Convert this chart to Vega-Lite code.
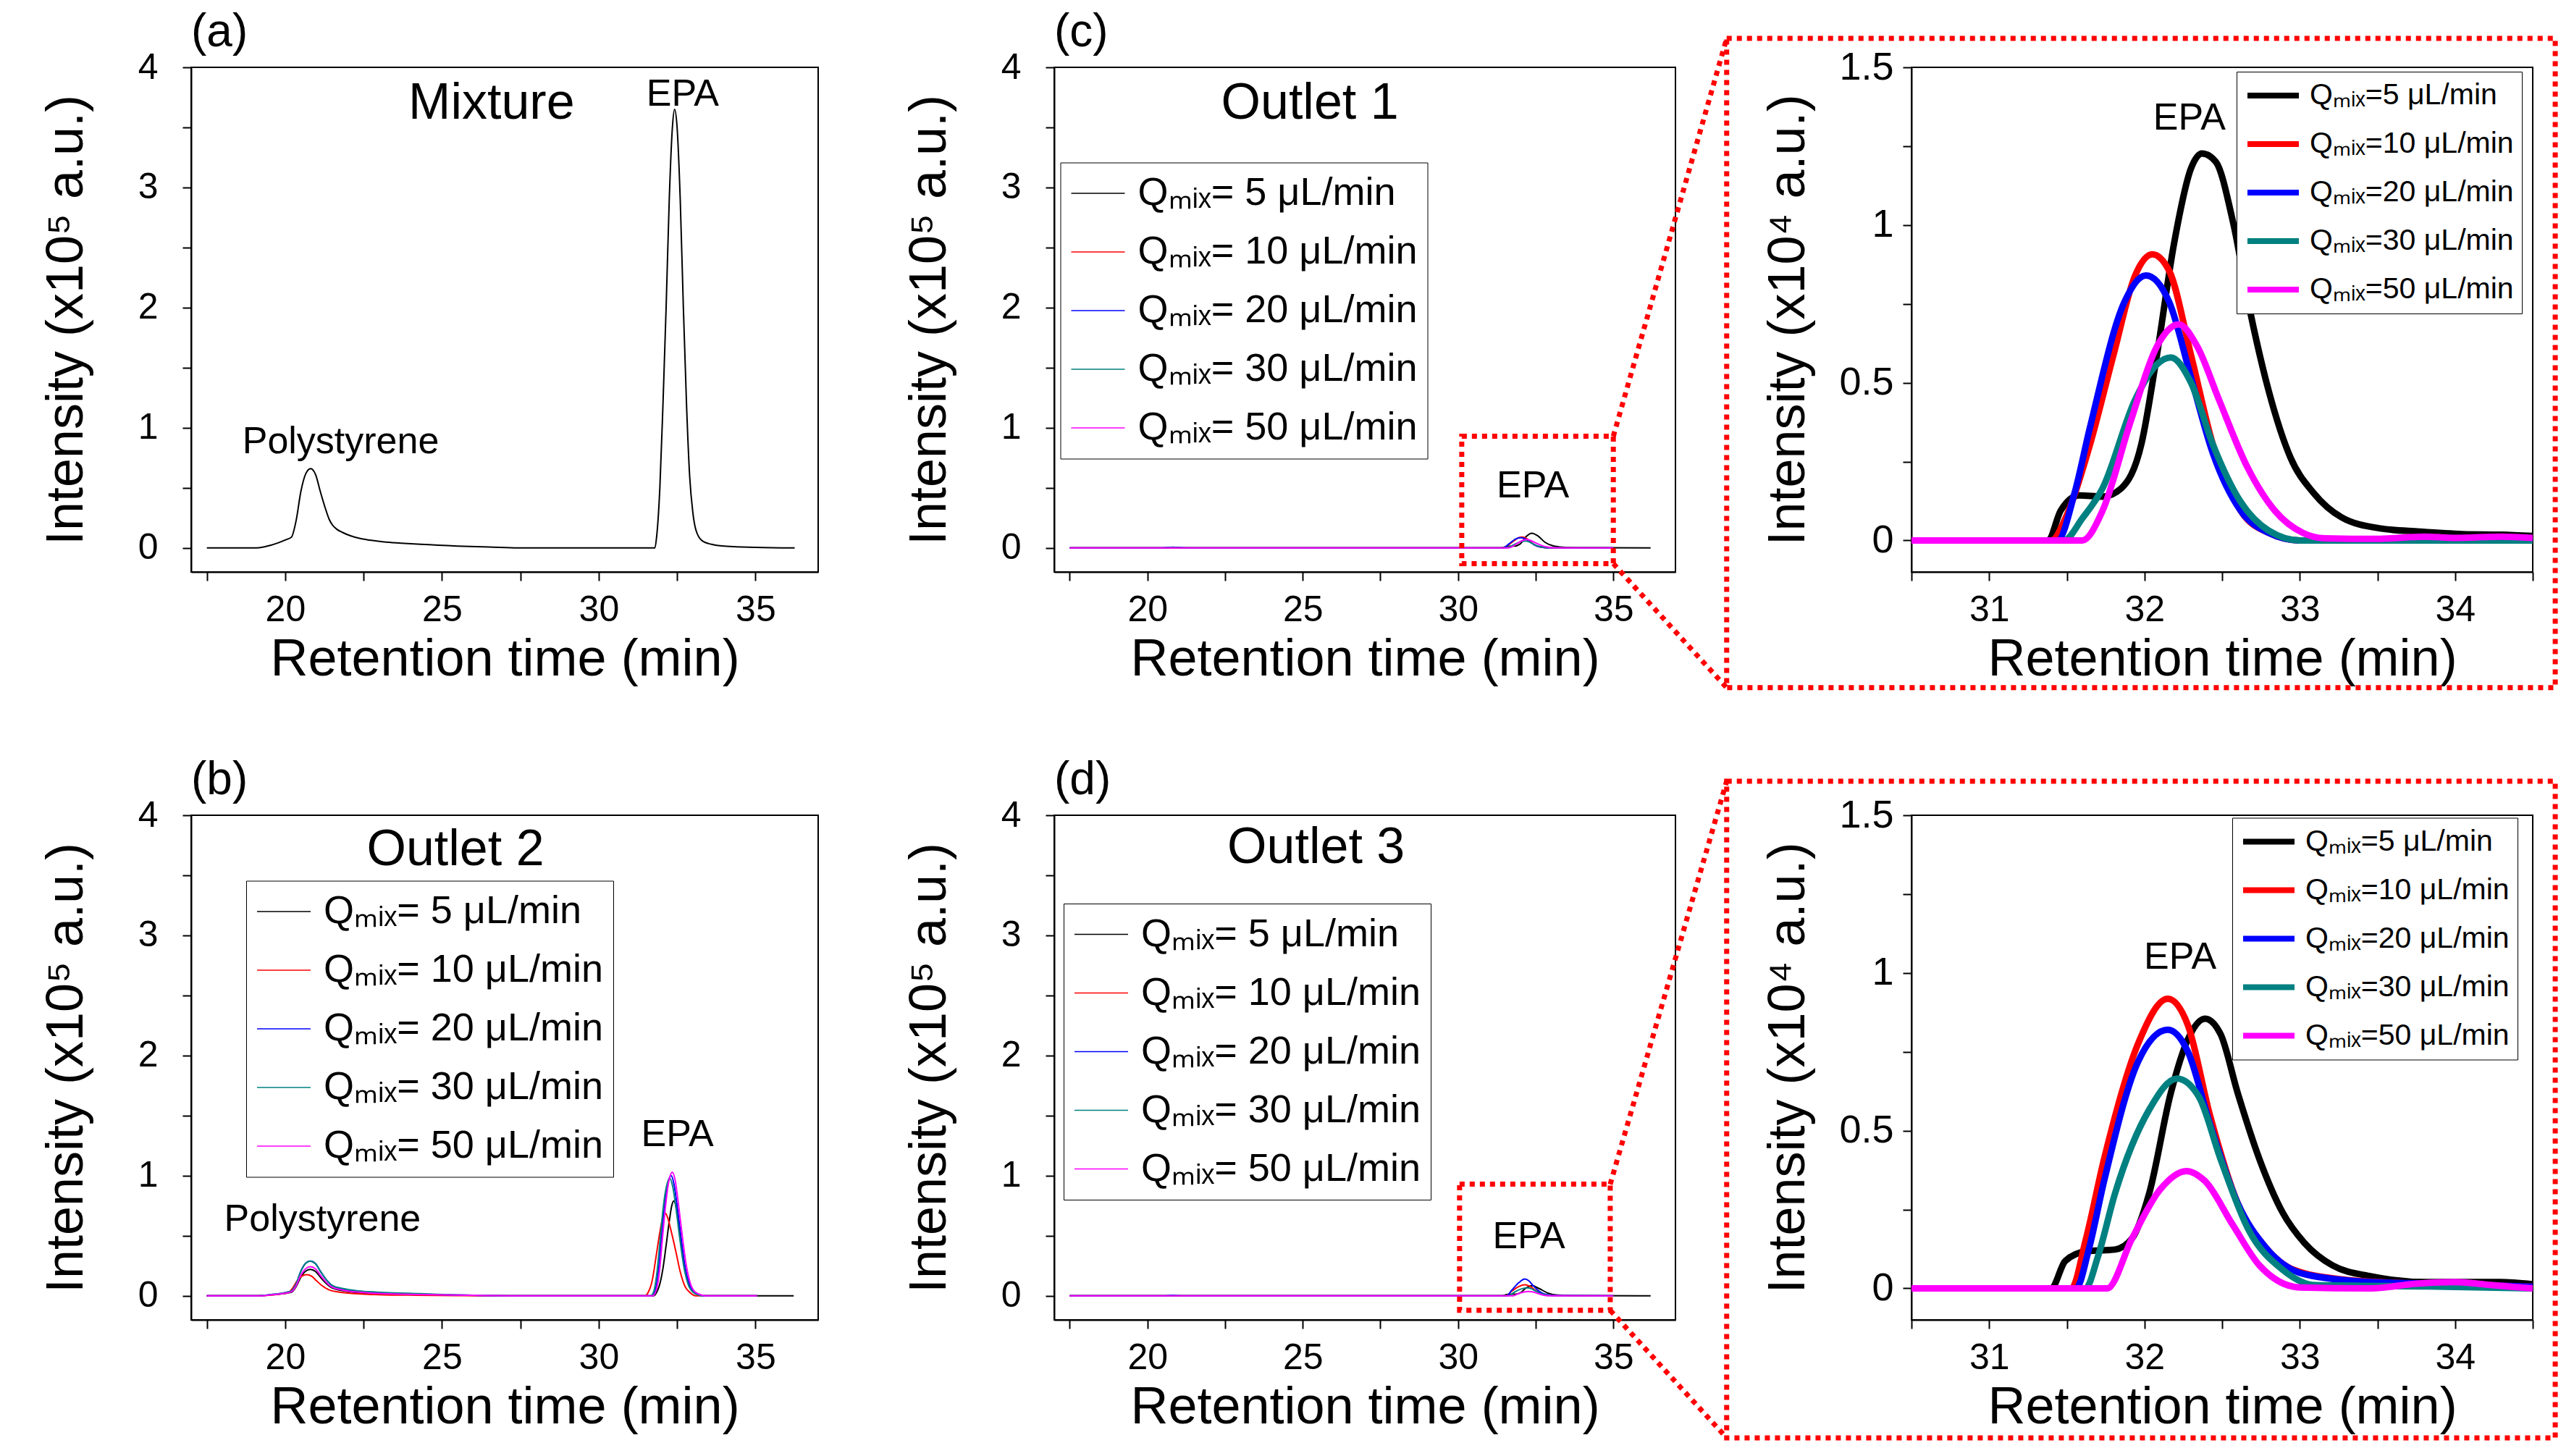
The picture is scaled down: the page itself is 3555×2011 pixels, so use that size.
{
"$schema": "https://vega.github.io/schema/vega-lite/v6.json",
"background": "white",
"padding": {"left": 54, "top": 12, "right": 10, "bottom": 10},
"config": {
  "font": "Liberation Sans",
  "view": {"stroke": "black", "strokeWidth": 2},
  "axis": {"domainColor": "black", "domainWidth": 2, "tickColor": "black", "tickWidth": 2, "tickSize": 12, "labelColor": "black", "titleColor": "black", "labelFontSize": 50, "titleFontSize": 72, "titleFontWeight": "normal", "grid": false, "labelFlush": false, "labelOverlap": false, "labelBound": false},
  "axisX": {"labelPadding": 15, "titlePadding": 8},
  "axisY": {"labelPadding": 34, "titlePadding": 62},
  "title": {"fontSize": 64, "fontWeight": "normal", "anchor": "start", "offset": -9, "color": "black", "frame": "group"},
  "legend": {"title": null, "strokeColor": "black", "fillColor": "white", "symbolType": "stroke", "labelColor": "black", "labelLimit": 0, "orient": "none"},
  "text": {"color": "black"}
},
"datasets": {
  "a": [
    {"t":17.5,"i":0},{"t":18.5,"i":0},{"t":19.1,"i":0},{"t":19.5,"i":0.02},{"t":19.8,"i":0.045},{"t":20.04,"i":0.07},{"t":20.2,"i":0.09},{"t":20.35,"i":0.23},{"t":20.5,"i":0.47},{"t":20.66,"i":0.62},{"t":20.81,"i":0.66},{"t":20.97,"i":0.61},{"t":21.12,"i":0.47},{"t":21.28,"i":0.33},{"t":21.4,"i":0.24},{"t":21.51,"i":0.19},{"t":21.65,"i":0.155},{"t":21.82,"i":0.13},{"t":22.1,"i":0.1},{"t":22.37,"i":0.08},{"t":22.7,"i":0.065},{"t":23.15,"i":0.05},{"t":23.7,"i":0.04},{"t":24.32,"i":0.03},{"t":25.49,"i":0.016},{"t":26.5,"i":0.008},{"t":27.43,"i":0},{"t":31.79,"i":0},{"t":31.85,"i":0.1},{"t":31.95,"i":0.5},{"t":32.05,"i":1.2},{"t":32.15,"i":2.0},{"t":32.25,"i":2.9},{"t":32.35,"i":3.5},{"t":32.42,"i":3.65},{"t":32.5,"i":3.5},{"t":32.6,"i":2.9},{"t":32.7,"i":2.0},{"t":32.8,"i":1.2},{"t":32.9,"i":0.6},{"t":33.0,"i":0.3},{"t":33.1,"i":0.15},{"t":33.3,"i":0.06},{"t":33.6,"i":0.03},{"t":34,"i":0.015},{"t":35,"i":0.005},{"t":36.25,"i":0}
  ],
  "b": [
    {"q":"5","t":17.5,"i":0},{"q":"5","t":19.1,"i":0},{"q":"5","t":19.5,"i":0.007},{"q":"5","t":20.04,"i":0.022},{"q":"5","t":20.2,"i":0.03},{"q":"5","t":20.35,"i":0.077},{"q":"5","t":20.5,"i":0.156},{"q":"5","t":20.66,"i":0.207},{"q":"5","t":20.8,"i":0.22},{"q":"5","t":20.97,"i":0.202},{"q":"5","t":21.12,"i":0.156},{"q":"5","t":21.28,"i":0.11},{"q":"5","t":21.51,"i":0.064},{"q":"5","t":21.82,"i":0.044},{"q":"5","t":22.37,"i":0.026},{"q":"5","t":23.15,"i":0.017},{"q":"5","t":24.32,"i":0.01},{"q":"5","t":25.49,"i":0.005},{"q":"5","t":27.43,"i":0},{"q":"5","t":31.74,"i":0},{"q":"5","t":31.85,"i":0.03},{"q":"5","t":31.95,"i":0.1},{"q":"5","t":32.05,"i":0.23},{"q":"5","t":32.14,"i":0.4},{"q":"5","t":32.25,"i":0.62},{"q":"5","t":32.33,"i":0.75},{"q":"5","t":32.39,"i":0.79},{"q":"5","t":32.46,"i":0.75},{"q":"5","t":32.55,"i":0.6},{"q":"5","t":32.64,"i":0.4},{"q":"5","t":32.75,"i":0.22},{"q":"5","t":32.88,"i":0.1},{"q":"5","t":33.0,"i":0.04},{"q":"5","t":33.2,"i":0.01},{"q":"5","t":33.42,"i":0},{"q":"5","t":36.22,"i":0},
    {"q":"10","t":17.5,"i":0},{"q":"10","t":19.1,"i":0},{"q":"10","t":19.5,"i":0.005},{"q":"10","t":19.92,"i":0.018},{"q":"10","t":20.08,"i":0.025},{"q":"10","t":20.23,"i":0.062},{"q":"10","t":20.38,"i":0.125},{"q":"10","t":20.54,"i":0.165},{"q":"10","t":20.68,"i":0.176},{"q":"10","t":20.85,"i":0.162},{"q":"10","t":21.0,"i":0.125},{"q":"10","t":21.16,"i":0.088},{"q":"10","t":21.39,"i":0.051},{"q":"10","t":21.7,"i":0.032},{"q":"10","t":22.25,"i":0.018},{"q":"10","t":23.0,"i":0.01},{"q":"10","t":24.2,"i":0.005},{"q":"10","t":25.5,"i":0.002},{"q":"10","t":27,"i":0},{"q":"10","t":31.48,"i":0},{"q":"10","t":31.58,"i":0.03},{"q":"10","t":31.7,"i":0.12},{"q":"10","t":31.84,"i":0.345},{"q":"10","t":31.95,"i":0.53},{"q":"10","t":32.05,"i":0.66},{"q":"10","t":32.11,"i":0.69},{"q":"10","t":32.2,"i":0.65},{"q":"10","t":32.3,"i":0.55},{"q":"10","t":32.4,"i":0.44},{"q":"10","t":32.48,"i":0.345},{"q":"10","t":32.6,"i":0.2},{"q":"10","t":32.75,"i":0.08},{"q":"10","t":32.9,"i":0.03},{"q":"10","t":33.1,"i":0},{"q":"10","t":35.05,"i":0},
    {"q":"20","t":17.5,"i":0},{"q":"20","t":19.1,"i":0},{"q":"20","t":19.5,"i":0.009},{"q":"20","t":20.04,"i":0.029},{"q":"20","t":20.2,"i":0.041},{"q":"20","t":20.35,"i":0.1},{"q":"20","t":20.5,"i":0.206},{"q":"20","t":20.66,"i":0.273},{"q":"20","t":20.8,"i":0.29},{"q":"20","t":20.97,"i":0.267},{"q":"20","t":21.12,"i":0.206},{"q":"20","t":21.28,"i":0.145},{"q":"20","t":21.51,"i":0.084},{"q":"20","t":21.82,"i":0.058},{"q":"20","t":22.37,"i":0.038},{"q":"20","t":23.15,"i":0.024},{"q":"20","t":24.32,"i":0.014},{"q":"20","t":25.49,"i":0.007},{"q":"20","t":27.43,"i":0},{"q":"20","t":31.7,"i":0},{"q":"20","t":31.8,"i":0.04},{"q":"20","t":31.9,"i":0.2},{"q":"20","t":32.0,"i":0.48},{"q":"20","t":32.1,"i":0.75},{"q":"20","t":32.2,"i":0.93},{"q":"20","t":32.31,"i":1.0},{"q":"20","t":32.4,"i":0.93},{"q":"20","t":32.5,"i":0.75},{"q":"20","t":32.62,"i":0.5},{"q":"20","t":32.75,"i":0.25},{"q":"20","t":32.9,"i":0.09},{"q":"20","t":33.05,"i":0.03},{"q":"20","t":33.25,"i":0.005},{"q":"20","t":33.42,"i":0},{"q":"20","t":35.05,"i":0},
    {"q":"30","t":17.5,"i":0},{"q":"30","t":19.1,"i":0},{"q":"30","t":19.5,"i":0.009},{"q":"30","t":20.04,"i":0.029},{"q":"30","t":20.2,"i":0.041},{"q":"30","t":20.35,"i":0.1},{"q":"30","t":20.5,"i":0.206},{"q":"30","t":20.66,"i":0.273},{"q":"30","t":20.8,"i":0.29},{"q":"30","t":20.97,"i":0.267},{"q":"30","t":21.12,"i":0.206},{"q":"30","t":21.28,"i":0.145},{"q":"30","t":21.51,"i":0.086},{"q":"30","t":21.82,"i":0.062},{"q":"30","t":22.37,"i":0.04},{"q":"30","t":23.15,"i":0.028},{"q":"30","t":24.32,"i":0.018},{"q":"30","t":25.49,"i":0.008},{"q":"30","t":27.43,"i":0},{"q":"30","t":31.66,"i":0},{"q":"30","t":31.76,"i":0.04},{"q":"30","t":31.86,"i":0.2},{"q":"30","t":31.96,"i":0.47},{"q":"30","t":32.06,"i":0.74},{"q":"30","t":32.16,"i":0.91},{"q":"30","t":32.26,"i":0.98},{"q":"30","t":32.36,"i":0.91},{"q":"30","t":32.46,"i":0.74},{"q":"30","t":32.58,"i":0.49},{"q":"30","t":32.71,"i":0.25},{"q":"30","t":32.86,"i":0.09},{"q":"30","t":33.01,"i":0.03},{"q":"30","t":33.2,"i":0.005},{"q":"30","t":33.4,"i":0},{"q":"30","t":35.05,"i":0},
    {"q":"50","t":17.5,"i":0},{"q":"50","t":19.1,"i":0},{"q":"50","t":19.5,"i":0.007},{"q":"50","t":20.04,"i":0.024},{"q":"50","t":20.2,"i":0.034},{"q":"50","t":20.35,"i":0.085},{"q":"50","t":20.5,"i":0.173},{"q":"50","t":20.66,"i":0.228},{"q":"50","t":20.8,"i":0.243},{"q":"50","t":20.97,"i":0.224},{"q":"50","t":21.12,"i":0.173},{"q":"50","t":21.28,"i":0.122},{"q":"50","t":21.51,"i":0.07},{"q":"50","t":21.82,"i":0.049},{"q":"50","t":22.37,"i":0.03},{"q":"50","t":23.15,"i":0.018},{"q":"50","t":24.32,"i":0.011},{"q":"50","t":25.49,"i":0.006},{"q":"50","t":27.43,"i":0},{"q":"50","t":31.72,"i":0},{"q":"50","t":31.84,"i":0.05},{"q":"50","t":31.94,"i":0.21},{"q":"50","t":32.04,"i":0.5},{"q":"50","t":32.14,"i":0.77},{"q":"50","t":32.24,"i":0.96},{"q":"50","t":32.35,"i":1.03},{"q":"50","t":32.44,"i":0.96},{"q":"50","t":32.54,"i":0.77},{"q":"50","t":32.66,"i":0.51},{"q":"50","t":32.79,"i":0.26},{"q":"50","t":32.94,"i":0.09},{"q":"50","t":33.09,"i":0.03},{"q":"50","t":33.3,"i":0.005},{"q":"50","t":33.45,"i":0},{"q":"50","t":35.05,"i":0}
  ],
  "c": [
    {"q":"5","t":17.5,"i":0},{"q":"5","t":20.5,"i":0},{"q":"5","t":20.8,"i":0.003},{"q":"5","t":21.2,"i":0},{"q":"5","t":31.38,"i":0},{"q":"5","t":31.6,"i":0.014},{"q":"5","t":31.8,"i":0.015},{"q":"5","t":32.0,"i":0.033},{"q":"5","t":32.19,"i":0.094},{"q":"5","t":32.37,"i":0.123},{"q":"5","t":32.57,"i":0.101},{"q":"5","t":32.8,"i":0.047},{"q":"5","t":33.09,"i":0.015},{"q":"5","t":33.5,"i":0.004},{"q":"5","t":34.5,"i":0.0014},{"q":"5","t":36.2,"i":0},
    {"q":"10","t":17.5,"i":0},{"q":"10","t":31.4,"i":0},{"q":"10","t":31.65,"i":0.03},{"q":"10","t":31.8,"i":0.059},{"q":"10","t":31.94,"i":0.084},{"q":"10","t":32.05,"i":0.091},{"q":"10","t":32.16,"i":0.085},{"q":"10","t":32.3,"i":0.059},{"q":"10","t":32.44,"i":0.03},{"q":"10","t":32.62,"i":0.009},{"q":"10","t":33.0,"i":0},{"q":"10","t":35,"i":0},
    {"q":"20","t":17.5,"i":0},{"q":"20","t":20.5,"i":0},{"q":"20","t":20.8,"i":0.006},{"q":"20","t":21.3,"i":0},{"q":"20","t":31.44,"i":0},{"q":"20","t":31.65,"i":0.036},{"q":"20","t":31.87,"i":0.076},{"q":"20","t":32.01,"i":0.084},{"q":"20","t":32.16,"i":0.076},{"q":"20","t":32.3,"i":0.052},{"q":"20","t":32.44,"i":0.028},{"q":"20","t":32.62,"i":0.009},{"q":"20","t":33.0,"i":0},{"q":"20","t":35,"i":0},
    {"q":"30","t":17.5,"i":0},{"q":"30","t":20.5,"i":0},{"q":"30","t":20.8,"i":0.004},{"q":"30","t":21.3,"i":0},{"q":"30","t":31.48,"i":0},{"q":"30","t":31.73,"i":0.017},{"q":"30","t":31.94,"i":0.045},{"q":"30","t":32.17,"i":0.058},{"q":"30","t":32.3,"i":0.05},{"q":"30","t":32.44,"i":0.031},{"q":"30","t":32.62,"i":0.012},{"q":"30","t":33.0,"i":0},{"q":"30","t":35,"i":0},
    {"q":"50","t":17.5,"i":0},{"q":"50","t":31.6,"i":0},{"q":"50","t":31.73,"i":0.009},{"q":"50","t":31.91,"i":0.038},{"q":"50","t":32.08,"i":0.062},{"q":"50","t":32.22,"i":0.069},{"q":"50","t":32.34,"i":0.062},{"q":"50","t":32.48,"i":0.045},{"q":"50","t":32.66,"i":0.024},{"q":"50","t":32.84,"i":0.009},{"q":"50","t":33.1,"i":0},{"q":"50","t":35,"i":0}
  ],
  "d": [
    {"q":"5","t":17.5,"i":0},{"q":"5","t":31.4,"i":0},{"q":"5","t":31.6,"i":0.012},{"q":"5","t":31.9,"i":0.016},{"q":"5","t":32.03,"i":0.03},{"q":"5","t":32.17,"i":0.062},{"q":"5","t":32.39,"i":0.085},{"q":"5","t":32.6,"i":0.062},{"q":"5","t":32.89,"i":0.024},{"q":"5","t":33.21,"i":0.007},{"q":"5","t":34,"i":0.002},{"q":"5","t":36.2,"i":0},
    {"q":"10","t":17.5,"i":0},{"q":"10","t":31.53,"i":0},{"q":"10","t":31.74,"i":0.041},{"q":"10","t":31.96,"i":0.078},{"q":"10","t":32.15,"i":0.092},{"q":"10","t":32.28,"i":0.083},{"q":"10","t":32.6,"i":0.027},{"q":"10","t":32.96,"i":0.006},{"q":"10","t":34,"i":0.001},{"q":"10","t":35,"i":0},
    {"q":"20","t":17.5,"i":0},{"q":"20","t":20.5,"i":0},{"q":"20","t":20.8,"i":0.005},{"q":"20","t":21.2,"i":0},{"q":"20","t":31.56,"i":0},{"q":"20","t":31.74,"i":0.05},{"q":"20","t":31.96,"i":0.11},{"q":"20","t":32.15,"i":0.14},{"q":"20","t":32.28,"i":0.125},{"q":"20","t":32.42,"i":0.085},{"q":"20","t":32.6,"i":0.04},{"q":"20","t":32.78,"i":0.015},{"q":"20","t":33.1,"i":0.004},{"q":"20","t":35,"i":0},
    {"q":"30","t":17.5,"i":0},{"q":"30","t":31.62,"i":0},{"q":"30","t":31.81,"i":0.03},{"q":"30","t":32.03,"i":0.057},{"q":"30","t":32.21,"i":0.066},{"q":"30","t":32.35,"i":0.061},{"q":"30","t":32.49,"i":0.041},{"q":"30","t":32.67,"i":0.019},{"q":"30","t":32.89,"i":0.006},{"q":"30","t":33.1,"i":0},{"q":"30","t":35,"i":0},
    {"q":"50","t":17.5,"i":0},{"q":"50","t":31.76,"i":0},{"q":"50","t":31.92,"i":0.016},{"q":"50","t":32.1,"i":0.031},{"q":"50","t":32.27,"i":0.037},{"q":"50","t":32.39,"i":0.034},{"q":"50","t":32.57,"i":0.02},{"q":"50","t":32.74,"i":0.007},{"q":"50","t":33.0,"i":0},{"q":"50","t":35,"i":0}
  ],
  "zt": [
    {"q":"5","t":30.5,"i":0},{"q":"5","t":31.38,"i":0},{"q":"5","t":31.46,"i":0.094},{"q":"5","t":31.58,"i":0.143},{"q":"5","t":31.73,"i":0.139},{"q":"5","t":31.85,"i":0.165},{"q":"5","t":31.98,"i":0.305},{"q":"5","t":32.08,"i":0.587},{"q":"5","t":32.19,"i":0.94},{"q":"5","t":32.3,"i":1.18},{"q":"5","t":32.37,"i":1.227},{"q":"5","t":32.46,"i":1.2},{"q":"5","t":32.57,"i":1.01},{"q":"5","t":32.68,"i":0.727},{"q":"5","t":32.8,"i":0.474},{"q":"5","t":32.94,"i":0.263},{"q":"5","t":33.09,"i":0.15},{"q":"5","t":33.27,"i":0.073},{"q":"5","t":33.52,"i":0.038},{"q":"5","t":33.77,"i":0.028},{"q":"5","t":34.05,"i":0.02},{"q":"5","t":34.3,"i":0.018},{"q":"5","t":34.5,"i":0.014},
    {"q":"10","t":30.5,"i":0},{"q":"10","t":31.4,"i":0},{"q":"10","t":31.5,"i":0.08},{"q":"10","t":31.65,"i":0.305},{"q":"10","t":31.8,"i":0.587},{"q":"10","t":31.94,"i":0.84},{"q":"10","t":32.05,"i":0.907},{"q":"10","t":32.16,"i":0.854},{"q":"10","t":32.3,"i":0.587},{"q":"10","t":32.44,"i":0.305},{"q":"10","t":32.62,"i":0.094},{"q":"10","t":32.8,"i":0.024},{"q":"10","t":33.0,"i":0},{"q":"10","t":34.5,"i":0},
    {"q":"20","t":30.5,"i":0},{"q":"20","t":31.44,"i":0},{"q":"20","t":31.55,"i":0.15},{"q":"20","t":31.65,"i":0.36},{"q":"20","t":31.87,"i":0.755},{"q":"20","t":32.01,"i":0.84},{"q":"20","t":32.16,"i":0.755},{"q":"20","t":32.3,"i":0.516},{"q":"20","t":32.44,"i":0.277},{"q":"20","t":32.62,"i":0.094},{"q":"20","t":32.8,"i":0.024},{"q":"20","t":33.0,"i":0},{"q":"20","t":34.5,"i":0},
    {"q":"30","t":30.5,"i":0},{"q":"30","t":31.48,"i":0},{"q":"30","t":31.6,"i":0.07},{"q":"30","t":31.73,"i":0.165},{"q":"30","t":31.94,"i":0.446},{"q":"30","t":32.08,"i":0.558},{"q":"30","t":32.17,"i":0.58},{"q":"30","t":32.3,"i":0.5},{"q":"30","t":32.44,"i":0.305},{"q":"30","t":32.62,"i":0.122},{"q":"30","t":32.8,"i":0.031},{"q":"30","t":33.0,"i":0},{"q":"30","t":34.5,"i":0},
    {"q":"50","t":30.5,"i":0},{"q":"50","t":31.6,"i":0},{"q":"50","t":31.73,"i":0.094},{"q":"50","t":31.91,"i":0.376},{"q":"50","t":32.08,"i":0.615},{"q":"50","t":32.22,"i":0.685},{"q":"50","t":32.34,"i":0.615},{"q":"50","t":32.48,"i":0.446},{"q":"50","t":32.66,"i":0.235},{"q":"50","t":32.84,"i":0.094},{"q":"50","t":33.02,"i":0.024},{"q":"50","t":33.16,"i":0.007},{"q":"50","t":33.5,"i":0.005},{"q":"50","t":33.8,"i":0.012},{"q":"50","t":34.0,"i":0.008},{"q":"50","t":34.3,"i":0.012},{"q":"50","t":34.5,"i":0.008}
  ],
  "zb": [
    {"q":"5","t":30.5,"i":0},{"q":"5","t":31.4,"i":0},{"q":"5","t":31.49,"i":0.087},{"q":"5","t":31.63,"i":0.118},{"q":"5","t":31.81,"i":0.123},{"q":"5","t":31.92,"i":0.158},{"q":"5","t":32.03,"i":0.3},{"q":"5","t":32.17,"i":0.62},{"q":"5","t":32.28,"i":0.79},{"q":"5","t":32.39,"i":0.855},{"q":"5","t":32.49,"i":0.806},{"q":"5","t":32.6,"i":0.62},{"q":"5","t":32.74,"i":0.41},{"q":"5","t":32.89,"i":0.24},{"q":"5","t":33.03,"i":0.144},{"q":"5","t":33.21,"i":0.073},{"q":"5","t":33.46,"i":0.038},{"q":"5","t":33.82,"i":0.02},{"q":"5","t":34.29,"i":0.02},{"q":"5","t":34.5,"i":0.013},
    {"q":"10","t":30.5,"i":0},{"q":"10","t":31.53,"i":0},{"q":"10","t":31.62,"i":0.15},{"q":"10","t":31.74,"i":0.41},{"q":"10","t":31.96,"i":0.777},{"q":"10","t":32.15,"i":0.918},{"q":"10","t":32.28,"i":0.834},{"q":"10","t":32.42,"i":0.552},{"q":"10","t":32.6,"i":0.27},{"q":"10","t":32.78,"i":0.13},{"q":"10","t":32.96,"i":0.059},{"q":"10","t":33.28,"i":0.028},{"q":"10","t":33.64,"i":0.017},{"q":"10","t":34.0,"i":0.013},{"q":"10","t":34.5,"i":0.005},
    {"q":"20","t":30.5,"i":0},{"q":"20","t":31.56,"i":0},{"q":"20","t":31.64,"i":0.12},{"q":"20","t":31.74,"i":0.34},{"q":"20","t":31.96,"i":0.72},{"q":"20","t":32.15,"i":0.82},{"q":"20","t":32.28,"i":0.75},{"q":"20","t":32.42,"i":0.524},{"q":"20","t":32.6,"i":0.27},{"q":"20","t":32.78,"i":0.13},{"q":"20","t":33.03,"i":0.045},{"q":"20","t":33.46,"i":0.02},{"q":"20","t":34.0,"i":0.013},{"q":"20","t":34.5,"i":0.005},
    {"q":"30","t":30.5,"i":0},{"q":"30","t":31.62,"i":0},{"q":"30","t":31.7,"i":0.1},{"q":"30","t":31.81,"i":0.3},{"q":"30","t":32.03,"i":0.566},{"q":"30","t":32.21,"i":0.665},{"q":"30","t":32.35,"i":0.608},{"q":"30","t":32.49,"i":0.41},{"q":"30","t":32.67,"i":0.186},{"q":"30","t":32.89,"i":0.059},{"q":"30","t":33.1,"i":0.01},{"q":"30","t":33.82,"i":0.006},{"q":"30","t":34.5,"i":0},
    {"q":"50","t":30.5,"i":0},{"q":"50","t":31.76,"i":0},{"q":"50","t":31.92,"i":0.158},{"q":"50","t":32.1,"i":0.313},{"q":"50","t":32.27,"i":0.372},{"q":"50","t":32.39,"i":0.34},{"q":"50","t":32.57,"i":0.2},{"q":"50","t":32.74,"i":0.073},{"q":"50","t":33.0,"i":0.003},{"q":"50","t":33.46,"i":0},{"q":"50","t":33.75,"i":0.015},{"q":"50","t":34.0,"i":0.02},{"q":"50","t":34.2,"i":0.012},{"q":"50","t":34.36,"i":0.005},{"q":"50","t":34.5,"i":0}
  ]
},
"columns": 3,
"spacing": {"row": 336, "column": 326},
"bounds": "flush",
"resolve": {"scale": {"color": "independent"}, "legend": {"color": "independent"}},
"concat": [
  {
    "width": 866, "height": 697,
    "title": {"text": "(a)"},
    "encoding": {
      "x": {"field": "t", "type": "quantitative", "scale": {"domain": [17, 37], "nice": false, "zero": false}, "axis": {"title": "Retention time (min)", "values": [17.5,20,22.5,25,27.5,30,32.5,35], "format": "~g", "labelExpr": "datum.value % 5 === 0 ? datum.label : ''"}},
      "y": {"field": "i", "type": "quantitative", "scale": {"domain": [-0.2, 4], "nice": false, "zero": false}, "axis": {"title": "Intensity (x10⁵ a.u.)", "values": [0,0.5,1,1.5,2,2.5,3,3.5,4], "format": "~g", "labelExpr": "datum.value % 1 === 0 ? datum.label : ''"}}
    },
    "layer": [
      {"data": {"name": "a"}, "mark": {"type": "line", "color": "black", "strokeWidth": 2, "interpolate": "monotone"}},
      {"data": {"values": [{"t": 26.58, "i": 3.7, "label": "Mixture"}]}, "mark": {"type": "text", "fontSize": 70}, "encoding": {"text": {"field": "label"}}},
      {"data": {"values": [{"t": 32.68, "i": 3.78, "label": "EPA"}, {"t": 21.77, "i": 0.885, "label": "Polystyrene"}]}, "mark": {"type": "text", "fontSize": 52}, "encoding": {"text": {"field": "label"}}}
    ]
  },
  {
    "width": 858, "height": 697,
    "title": {"text": "(c)"},
    "encoding": {
      "x": {"field": "t", "type": "quantitative", "scale": {"domain": [17, 37], "nice": false, "zero": false}, "axis": {"title": "Retention time (min)", "values": [17.5,20,22.5,25,27.5,30,32.5,35], "format": "~g", "labelExpr": "datum.value % 5 === 0 ? datum.label : ''"}},
      "y": {"field": "i", "type": "quantitative", "scale": {"domain": [-0.2, 4], "nice": false, "zero": false}, "axis": {"title": "Intensity (x10⁵ a.u.)", "values": [0,0.5,1,1.5,2,2.5,3,3.5,4], "format": "~g", "labelExpr": "datum.value % 1 === 0 ? datum.label : ''"}}
    },
    "layer": [
      {"data": {"name": "c"}, "mark": {"type": "line", "strokeWidth": 2, "interpolate": "monotone"},
       "encoding": {"color": {"field": "q", "type": "nominal", "scale": {"domain": ["5","10","20","30","50"], "range": ["#000000","#ff0000","#0000ff","#008080","#ff00ff"]},
         "legend": {"legendX": 8.5, "legendY": 131.5, "padding": 14, "symbolSize": 5476, "symbolStrokeWidth": 1.5, "labelFontSize": 54, "labelOffset": 17, "clipHeight": 57, "rowPadding": 24, "labelExpr": "'Qₘᵢₓ= ' + datum.label + ' μL/min'"}}}},
      {"data": {"values": [{"t": 25.23, "i": 3.7, "label": "Outlet 1"}]}, "mark": {"type": "text", "fontSize": 70}, "encoding": {"text": {"field": "label"}}},
      {"data": {"values": [{"t": 32.41, "i": 0.517, "label": "EPA"}]}, "mark": {"type": "text", "fontSize": 52}, "encoding": {"text": {"field": "label"}}},
      {"data": {"values": [{"t": 30.12, "t2": 35.0, "i": 0.93, "i2": -0.13}]}, "mark": {"type": "rect", "filled": false, "stroke": "#ff0000", "strokeWidth": 7, "strokeDash": [7, 7]}, "encoding": {"x2": {"field": "t2"}, "y2": {"field": "i2"}}}
    ]
  },
  {
    "width": 858, "height": 697,
    "encoding": {
      "x": {"field": "t", "type": "quantitative", "scale": {"domain": [30.5, 34.5], "nice": false, "zero": false}, "axis": {"title": "Retention time (min)", "values": [30.5,31,31.5,32,32.5,33,33.5,34,34.5], "format": "~g", "labelExpr": "datum.value % 1 === 0 ? datum.label : ''"}},
      "y": {"field": "i", "type": "quantitative", "scale": {"domain": [-0.1, 1.5], "nice": false, "zero": false}, "axis": {"title": "Intensity (x10⁴ a.u.)", "values": [0,0.25,0.5,0.75,1,1.25,1.5], "format": "~g", "labelExpr": "(datum.value * 2) % 1 === 0 ? datum.label : ''", "labelPadding": 13, "titlePadding": 33, "labelFontSize": 54}}
    },
    "layer": [
      {"data": {"name": "zt"}, "mark": {"type": "line", "strokeWidth": 9, "interpolate": "monotone", "clip": true},
       "encoding": {"color": {"field": "q", "type": "nominal", "scale": {"domain": ["5","10","20","30","50"], "range": ["#000000","#ff0000","#0000ff","#008080","#ff00ff"]},
         "legend": {"legendX": 449, "legendY": 6, "padding": 11, "symbolSize": 5041, "symbolStrokeWidth": 8, "labelFontSize": 41, "labelOffset": 11, "clipHeight": 44, "rowPadding": 23, "labelExpr": "'Qₘᵢₓ=' + datum.label + ' μL/min'"}}}},
      {"data": {"values": [{"t": 32.29, "i": 1.34, "label": "EPA"}]}, "mark": {"type": "text", "fontSize": 52}, "encoding": {"text": {"field": "label"}}},
      {"data": {"values": [{"t": 29.31, "t2": 34.645, "i": 1.592, "i2": -0.467}]}, "mark": {"type": "rect", "filled": false, "stroke": "#ff0000", "strokeWidth": 7, "strokeDash": [7, 7], "clip": false}, "encoding": {"x2": {"field": "t2"}, "y2": {"field": "i2"}}},
      {"data": {"values": [{"t": 28.58, "i": 0.33, "t2": 29.31, "i2": 1.592}, {"t": 28.58, "i": -0.0735, "t2": 29.31, "i2": -0.467}]}, "mark": {"type": "rule", "color": "#ff0000", "strokeWidth": 7, "strokeDash": [7, 7], "clip": false}, "encoding": {"x2": {"field": "t2"}, "y2": {"field": "i2"}}}
    ]
  },
  {
    "width": 866, "height": 697,
    "title": {"text": "(b)"},
    "encoding": {
      "x": {"field": "t", "type": "quantitative", "scale": {"domain": [17, 37], "nice": false, "zero": false}, "axis": {"title": "Retention time (min)", "values": [17.5,20,22.5,25,27.5,30,32.5,35], "format": "~g", "labelExpr": "datum.value % 5 === 0 ? datum.label : ''"}},
      "y": {"field": "i", "type": "quantitative", "scale": {"domain": [-0.2, 4], "nice": false, "zero": false}, "axis": {"title": "Intensity (x10⁵ a.u.)", "values": [0,0.5,1,1.5,2,2.5,3,3.5,4], "format": "~g", "labelExpr": "datum.value % 1 === 0 ? datum.label : ''"}}
    },
    "layer": [
      {"data": {"name": "b"}, "mark": {"type": "line", "strokeWidth": 2, "interpolate": "monotone"},
       "encoding": {"color": {"field": "q", "type": "nominal", "scale": {"domain": ["5","10","20","30","50"], "range": ["#000000","#ff0000","#0000ff","#008080","#ff00ff"]},
         "legend": {"legendX": 76, "legendY": 90.5, "padding": 14, "symbolSize": 5476, "symbolStrokeWidth": 1.5, "labelFontSize": 54, "labelOffset": 17, "clipHeight": 57, "rowPadding": 24, "labelExpr": "'Qₘᵢₓ= ' + datum.label + ' μL/min'"}}}},
      {"data": {"values": [{"t": 25.43, "i": 3.71, "label": "Outlet 2"}]}, "mark": {"type": "text", "fontSize": 70}, "encoding": {"text": {"field": "label"}}},
      {"data": {"values": [{"t": 32.51, "i": 1.34, "label": "EPA"}, {"t": 21.19, "i": 0.64, "label": "Polystyrene"}]}, "mark": {"type": "text", "fontSize": 52}, "encoding": {"text": {"field": "label"}}}
    ]
  },
  {
    "width": 858, "height": 697,
    "title": {"text": "(d)"},
    "encoding": {
      "x": {"field": "t", "type": "quantitative", "scale": {"domain": [17, 37], "nice": false, "zero": false}, "axis": {"title": "Retention time (min)", "values": [17.5,20,22.5,25,27.5,30,32.5,35], "format": "~g", "labelExpr": "datum.value % 5 === 0 ? datum.label : ''"}},
      "y": {"field": "i", "type": "quantitative", "scale": {"domain": [-0.2, 4], "nice": false, "zero": false}, "axis": {"title": "Intensity (x10⁵ a.u.)", "values": [0,0.5,1,1.5,2,2.5,3,3.5,4], "format": "~g", "labelExpr": "datum.value % 1 === 0 ? datum.label : ''"}}
    },
    "layer": [
      {"data": {"name": "d"}, "mark": {"type": "line", "strokeWidth": 2, "interpolate": "monotone"},
       "encoding": {"color": {"field": "q", "type": "nominal", "scale": {"domain": ["5","10","20","30","50"], "range": ["#000000","#ff0000","#0000ff","#008080","#ff00ff"]},
         "legend": {"legendX": 13, "legendY": 122, "padding": 14, "symbolSize": 5476, "symbolStrokeWidth": 1.5, "labelFontSize": 54, "labelOffset": 17, "clipHeight": 57, "rowPadding": 24, "labelExpr": "'Qₘᵢₓ= ' + datum.label + ' μL/min'"}}}},
      {"data": {"values": [{"t": 25.43, "i": 3.73, "label": "Outlet 3"}]}, "mark": {"type": "text", "fontSize": 70}, "encoding": {"text": {"field": "label"}}},
      {"data": {"values": [{"t": 32.28, "i": 0.49, "label": "EPA"}]}, "mark": {"type": "text", "fontSize": 52}, "encoding": {"text": {"field": "label"}}},
      {"data": {"values": [{"t": 30.05, "t2": 34.9, "i": 0.93, "i2": -0.12}]}, "mark": {"type": "rect", "filled": false, "stroke": "#ff0000", "strokeWidth": 7, "strokeDash": [7, 7]}, "encoding": {"x2": {"field": "t2"}, "y2": {"field": "i2"}}}
    ]
  },
  {
    "width": 858, "height": 697,
    "encoding": {
      "x": {"field": "t", "type": "quantitative", "scale": {"domain": [30.5, 34.5], "nice": false, "zero": false}, "axis": {"title": "Retention time (min)", "values": [30.5,31,31.5,32,32.5,33,33.5,34,34.5], "format": "~g", "labelExpr": "datum.value % 1 === 0 ? datum.label : ''"}},
      "y": {"field": "i", "type": "quantitative", "scale": {"domain": [-0.1, 1.5], "nice": false, "zero": false}, "axis": {"title": "Intensity (x10⁴ a.u.)", "values": [0,0.25,0.5,0.75,1,1.25,1.5], "format": "~g", "labelExpr": "(datum.value * 2) % 1 === 0 ? datum.label : ''", "labelPadding": 13, "titlePadding": 33, "labelFontSize": 54}}
    },
    "layer": [
      {"data": {"name": "zb"}, "mark": {"type": "line", "strokeWidth": 9, "interpolate": "monotone", "clip": true},
       "encoding": {"color": {"field": "q", "type": "nominal", "scale": {"domain": ["5","10","20","30","50"], "range": ["#000000","#ff0000","#0000ff","#008080","#ff00ff"]},
         "legend": {"legendX": 443, "legendY": 3.5, "padding": 11, "symbolSize": 5041, "symbolStrokeWidth": 8, "labelFontSize": 41, "labelOffset": 11, "clipHeight": 44, "rowPadding": 23, "labelExpr": "'Qₘᵢₓ=' + datum.label + ' μL/min'"}}}},
      {"data": {"values": [{"t": 32.23, "i": 1.05, "label": "EPA"}]}, "mark": {"type": "text", "fontSize": 52}, "encoding": {"text": {"field": "label"}}},
      {"data": {"values": [{"t": 29.31, "t2": 34.645, "i": 1.608, "i2": -0.474}]}, "mark": {"type": "rect", "filled": false, "stroke": "#ff0000", "strokeWidth": 7, "strokeDash": [7, 7], "clip": false}, "encoding": {"x2": {"field": "t2"}, "y2": {"field": "i2"}}},
      {"data": {"values": [{"t": 28.56, "i": 0.33, "t2": 29.31, "i2": 1.608}, {"t": 28.56, "i": -0.0696, "t2": 29.31, "i2": -0.474}]}, "mark": {"type": "rule", "color": "#ff0000", "strokeWidth": 7, "strokeDash": [7, 7], "clip": false}, "encoding": {"x2": {"field": "t2"}, "y2": {"field": "i2"}}}
    ]
  }
]
}
